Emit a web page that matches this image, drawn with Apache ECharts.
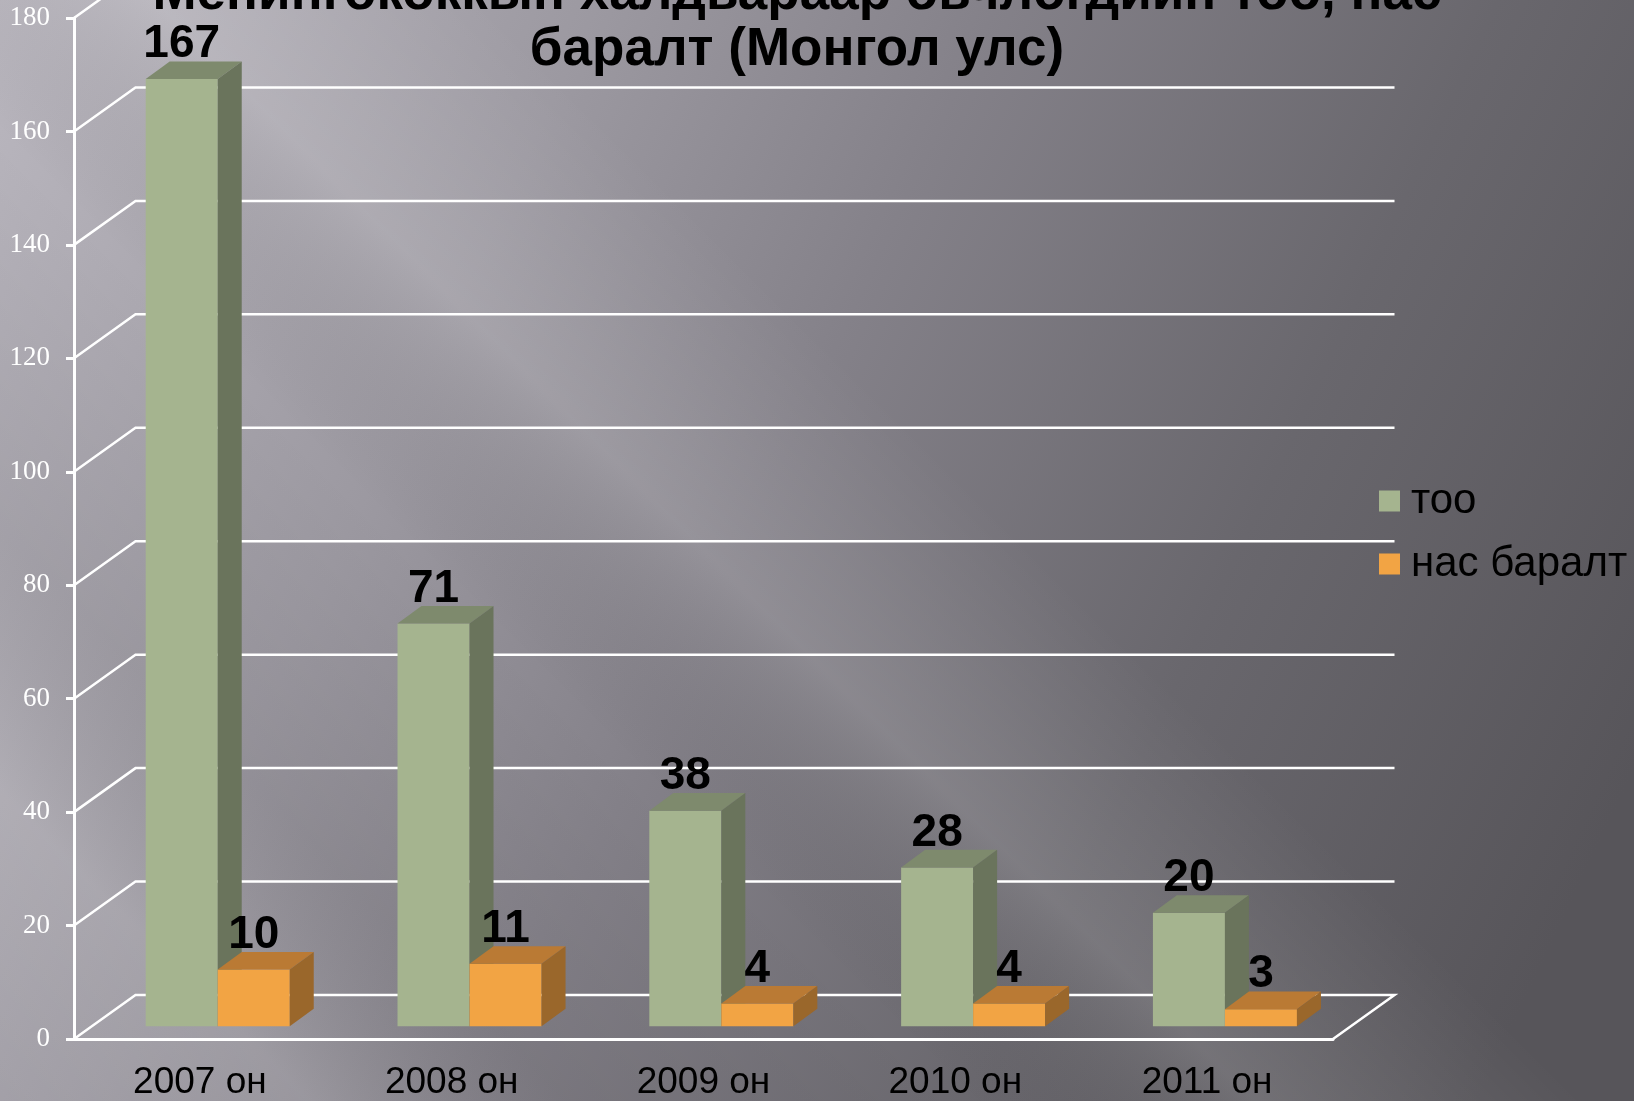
<!DOCTYPE html>
<html>
<head>
<meta charset="utf-8">
<script src="https://cdn.jsdelivr.net/npm/echarts@6/dist/echarts.min.js"></script>
<style>
html, body { margin: 0; padding: 0; }
#chart { width: 1634px; height: 1101px; }
</style>
</head>
<body>
<div id="chart"></div>
<script>
// data
var years = ['2007 он', '2008 он', '2009 он', '2010 он', '2011 он'];
var cases = [167, 71, 38, 28, 20];     // тоо
var deaths = [10, 11, 4, 4, 3];        // нас баралт
var yTicks = [0, 20, 40, 60, 80, 100, 120, 140, 160, 180];

// depth of the 3d floor (px)
var DX = 61.5, DY = -44;
var SANS = '"Liberation Sans", Arial, sans-serif';

var chart = echarts.init(document.getElementById('chart'));

function renderGrid(params, api) {
    var cs = params.coordSys;
    var v = api.value(1);
    var y = api.coord([0, v])[1];
    var x0 = cs.x, x1 = cs.x + cs.width;
    var pts = [[x0, y], [x0 + DX, y + DY], [x1 + DX, y + DY]];
    if (v === 0) pts.push([x1, y]);
    return {
        type: 'polyline',
        shape: { points: pts },
        style: { stroke: '#ffffff', lineWidth: 2.5, fill: null }
    };
}

function makeBar(s, front, topC, side) {
    return function (params, api) {
        var i = api.value(0), v = api.value(1);
        var base = api.coord([i, 0]), tip = api.coord([i, v]);
        var bw = api.size([1, 0])[0] * 0.286;
        var x = base[0] - bw + s * bw + DX * 0.29;
        var yb = base[1] + DY * 0.29, yt = tip[1] + DY * 0.29;
        var tx = DX * 0.39, ty = DY * 0.4;
        return {
            type: 'group',
            children: [
                { type: 'rect', shape: { x: x, y: yt, width: bw, height: yb - yt }, style: { fill: front } },
                { type: 'polygon', shape: { points: [[x, yt], [x + tx, yt + ty], [x + bw + tx, yt + ty], [x + bw, yt]] }, style: { fill: topC } },
                { type: 'polygon', shape: { points: [[x + bw, yt], [x + bw + tx, yt + ty], [x + bw + tx, yb + ty], [x + bw, yb]] }, style: { fill: side } },
                {
                    type: 'text', x: x + bw / 2, y: yt + ty + 6,
                    style: {
                        text: String(v), fill: '#000', font: 'bold 46px ' + SANS,
                        align: 'center', verticalAlign: 'bottom',
                        textAlign: 'center', textVerticalAlign: 'bottom'
                    }
                }
            ]
        };
    };
}

var option = {
    backgroundColor: {
        type: 'linear', x: 0, y: 0, x2: 1, y2: 0.7,
        colorStops: [
            { offset: 0, color: '#bab7bf' },
            { offset: 0.3, color: '#9c99a1' },
            { offset: 0.5, color: '#848189' },
            { offset: 0.75, color: '#69676d' },
            { offset: 1, color: '#57555a' }
        ]
    },
    graphic: [
        {
            // soft diagonal light streaks
            type: 'rect', z: -10, silent: true,
            shape: { x: 0, y: 0, width: 1634, height: 1101 },
            style: {
                fill: {
                    type: 'linear', global: true, x: 200, y: 1300, x2: 1300, y2: 200,
                    colorStops: [
                        { offset: 0, color: 'rgba(255,255,255,0.03)' },
                        { offset: 0.14, color: 'rgba(255,255,255,0.10)' },
                        { offset: 0.26, color: 'rgba(0,0,0,0.06)' },
                        { offset: 0.44, color: 'rgba(0,0,0,0)' },
                        { offset: 0.57, color: 'rgba(255,255,255,0.12)' },
                        { offset: 0.72, color: 'rgba(255,255,255,0)' },
                        { offset: 1, color: 'rgba(0,0,0,0)' }
                    ]
                }
            }
        },
        {
            type: 'text', x: 797, y: -34, z: 10,
            style: {
                text: 'Менингококкын халдвараар өвчлөгдийн тоо, нас\nбаралт (Монгол улс)',
                font: 'bold 53px ' + SANS, fill: '#000', lineHeight: 56,
                align: 'center', verticalAlign: 'top',
                textAlign: 'center', textVerticalAlign: 'top'
            }
        }
    ],
    legend: {
        data: ['тоо', 'нас баралт'],
        orient: 'vertical',
        left: 1374, top: 475,
        itemWidth: 21, itemHeight: 21, itemGap: 21,
        icon: 'rect',
        textStyle: { color: '#000', fontSize: 42, fontFamily: SANS, padding: [0, 0, 0, 6] }
    },
    grid: { left: 74, right: 301, top: 18, bottom: 62, outerBoundsMode: 'none' },
    xAxis: {
        type: 'category',
        data: years,
        boundaryGap: true,
        axisLine: { lineStyle: { color: '#fff', width: 3 } },
        axisTick: { length: 12, lineStyle: { color: '#fff', width: 3 } },
        axisLabel: { color: '#000', fontSize: 37, fontFamily: SANS, margin: 25 },
        splitLine: { show: false }
    },
    yAxis: {
        type: 'value', min: 0, max: 180, interval: 20,
        axisLine: { show: true, lineStyle: { color: '#fff', width: 3 } },
        axisTick: { show: true, length: 8, lineStyle: { color: '#fff', width: 3 } },
        axisLabel: { color: '#fff', fontSize: 27, fontFamily: '"Liberation Serif", serif', margin: 24 },
        splitLine: { show: false }
    },
    series: [
        {
            type: 'custom', name: 'grid', z: 1, silent: true,
            renderItem: renderGrid,
            encode: { x: 0, y: 1 },
            data: yTicks.map(function (t) { return [0, t]; })
        },
        {
            type: 'custom', name: 'тоо', z: 3,
            itemStyle: { color: '#a5b48f' },
            renderItem: makeBar(0, '#a5b48f', '#7e8a6d', '#6a745c'),
            encode: { x: 0, y: 1 },
            data: cases.map(function (v, i) { return [i, v]; })
        },
        {
            type: 'custom', name: 'нас баралт', z: 4,
            itemStyle: { color: '#f2a444' },
            renderItem: makeBar(1, '#f2a444', '#ba7a34', '#9a672b'),
            encode: { x: 0, y: 1 },
            data: deaths.map(function (v, i) { return [i, v]; })
        }
    ]
};

chart.setOption(option);
</script>
</body>
</html>
